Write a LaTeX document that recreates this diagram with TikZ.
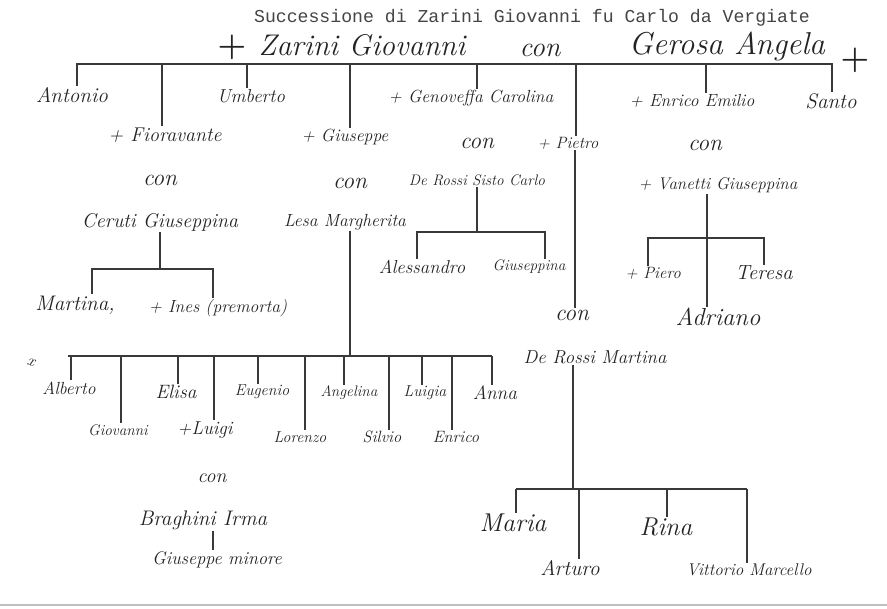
\documentclass[tikz,border=0pt]{standalone}
\usepackage{fontspec}
\setmonofont{Liberation Mono}
\usetikzlibrary{calc}

\definecolor{ink}{HTML}{232323}
\definecolor{typed}{HTML}{454545}

\tikzset{
  person/.style={font=\fontsize{#1}{#1}\selectfont\itshape, text=ink, inner sep=1pt},
  person/.default=16,
  tie/.style={draw=ink!90, line width=2pt},
  died/.style={font=\fontsize{28}{28}\selectfont\bfseries, text=ink, inner sep=0pt},
}

\begin{document}
\begin{tikzpicture}[x=0.03cm, y=-0.03cm]
  \useasboundingbox[fill=white] (0,0) rectangle (887,608);
  \draw[black!25, line width=1pt] (0,605) -- (887,605);

  % titolo
  \node[font=\ttfamily\fontsize{15.5}{15.5}\selectfont, text=typed] (title) at (532,18)
    {Successione di Zarini Giovanni fu Carlo da Vergiate};

  % capostipiti
  \node[died] (crossL) at (232,47) {+};
  \node[person=25.5] (zarini) at (362,45) {Zarini Giovanni};
  \node[person=24] (con0) at (540,50) {con};
  \node[person=27] (gerosa) at (727,46) {Gerosa Angela};
  \node[died] (crossR) at (855,60) {+};

  \coordinate (topL) at (77,64);
  \coordinate (topR) at (832,64);

  % figli
  \node[person=18] (antonio) at (72,95) {Antonio};
  \node[person=17] (fiora) at (165,135) {+ Fioravante};
  \node[person=16] (umberto) at (251,96) {Umberto};
  \node[person=15] (giuseppe) at (345,137) {+ Giuseppe};
  \node[person=15] (genov) at (471,98) {+ Genoveffa Carolina};
  \node[person=14] (pietro) at (568,143) {+ Pietro};
  \node[person=15] (enrico) at (692,101) {+ Enrico Emilio};
  \node[person=18] (santo) at (831,101) {Santo};

  \draw[tie] (topL |- antonio.north) -- (topL) -- (topR) -- (topR |- santo.north);
  \foreach \n/\d in {fiora/-3, umberto/-4, giuseppe/5, genov/6, pietro/8, enrico/14} {
    \path ($(\n.north)+(\d,0)$) coordinate (t);
    \draw[tie] (t |- topL) -- (t);
  }

  % Fioravante
  \node[person=20] (conF) at (160,180) {con};
  \node[person=17] (ceruti) at (160,222) {Ceruti Giuseppina};
  \node[person=18] (martina) at (75,305) {Martina,};
  \node[person=15] (ines) at (218,308) {+ Ines (premorta)};
  \coordinate (cbar) at (0,269);
  \path ($(martina.north)+(17,0)$) coordinate (m1) ($(ines.north)+(-5,0)$) coordinate (m2);
  \draw[tie] (ceruti.south) -- (ceruti.south |- cbar);
  \draw[tie] (m1) -- (m1 |- cbar) -- (m2 |- cbar) -- (m2);

  % Genoveffa
  \node[person=20] (conC) at (477,143) {con};
  \node[person=13] (sisto) at (477,180) {De Rossi Sisto Carlo};
  \node[person=16] (alessandro) at (422,267) {Alessandro};
  \node[person=13] (giuseppina) at (529,267) {Giuseppina};
  \coordinate (sbar) at (0,232);
  \path ($(alessandro.north)+(-5,0)$) coordinate (s1) ($(giuseppina.north)+(16,0)$) coordinate (s2);
  \draw[tie] (sisto.south) -- (sisto.south |- sbar);
  \draw[tie] (s1) -- (s1 |- sbar) -- (s2 |- sbar) -- (s2);

  % Enrico Emilio
  \node[person=20] (conE) at (705,145) {con};
  \node[person=14.5] (vanetti) at (718,185) {+ Vanetti Giuseppina};
  \node[person=14] (piero) at (653,273) {+ Piero};
  \node[person=17.5] (teresa) at (764,273) {Teresa};
  \node[person=21] (adriano) at (718,317) {Adriano};
  \coordinate (vbar) at (0,238);
  \path ($(vanetti.south)+(-11,0)$) coordinate (v) ($(piero.north)+(-5,0)$) coordinate (v1);
  \draw[tie] (v) -- (v |- adriano.north);
  \draw[tie] (v1) -- (v1 |- vbar) -- (teresa.north |- vbar) -- (teresa.north);

  % Pietro
  \node[person=20] (conP) at (572,315) {con};
  \node[person=16] (martinaD) at (595,357) {De Rossi Martina};
  \node[person=22] (maria) at (513,523) {Maria};
  \node[person=18] (arturo) at (570,568) {Arturo};
  \node[person=22] (rina) at (666,527) {Rina};
  \node[person=14.5] (vittorio) at (749,570) {Vittorio Marcello};
  \coordinate (pbar) at (0,489);
  \path ($(pietro.south)+(7,0)$) coordinate (p) ($(martinaD.south)+(-22,0)$) coordinate (q);
  \draw[tie] (p) -- (p |- conP.north);
  \draw[tie] (q) -- (q |- pbar);
  \path ($(maria.north)+(3,0)$) coordinate (r0) ($(vittorio.north)+(-2,0)$) coordinate (r1);
  \draw[tie] (r0 |- pbar) -- (r1 |- pbar);
  \foreach \n/\d in {maria/3, arturo/9, rina/1, vittorio/-2} {
    \path ($(\n.north)+(\d,0)$) coordinate (t);
    \draw[tie] (t |- pbar) -- (t);
  }

  % Giuseppe
  \node[person=20] (conG) at (350,183) {con};
  \node[person=15] (lesa) at (345,222) {Lesa Margherita};
  \coordinate (gbar) at (0,356);
  \path ($(lesa.south)+(5,0)$) coordinate (g);
  \draw[tie] (g) -- (g |- gbar);

  \node[font=\fontsize{14}{14}\selectfont\itshape, text=ink, rotate=-20] (mark) at (31,362) {x};
  \node[person=15] (alberto) at (69,388) {Alberto};
  \node[person=13] (giovanni) at (118,430) {Giovanni};
  \node[person=16.5] (elisa) at (176,392) {Elisa};
  \node[person=16] (luigi) at (205,430) {+Luigi};
  \node[person=13.5] (eugenio) at (262,392) {Eugenio};
  \node[person=13.5] (lorenzo) at (300,437) {Lorenzo};
  \node[person=13] (angelina) at (349,393) {Angelina};
  \node[person=14] (silvio) at (382,437) {Silvio};
  \node[person=13.5] (luigia) at (425,393) {Luigia};
  \node[person=14] (enricoB) at (456,437) {Enrico};
  \node[person=16.5] (anna) at (495,393) {Anna};

  \path ($(alberto.north)+(2,0)$) coordinate (a0) ($(anna.north)+(-3,0)$) coordinate (a1);
  \draw[tie] (a0 |- gbar) ++(-3,0) -- (a1 |- gbar);
  \foreach \n/\d in {alberto/2, giovanni/3, elisa/2, luigi/9, eugenio/-4, lorenzo/5,
                     angelina/-5, silvio/7, luigia/-3, enricoB/-4, anna/-3} {
    \path ($(\n.north)+(\d,0)$) coordinate (t);
    \draw[tie] (t |- gbar) -- (t);
  }

  % Luigi
  \node[person=17] (conL) at (212,478) {con};
  \node[person=18] (braghini) at (203,520) {Braghini Irma};
  \node[person=15.5] (gmin) at (217,560) {Giuseppe minore};
  \path ($(braghini.south)+(10,0)$) coordinate (b);
  \draw[tie, line width=1.5pt] (b) -- (b |- gmin.north);
\end{tikzpicture}
\end{document}
